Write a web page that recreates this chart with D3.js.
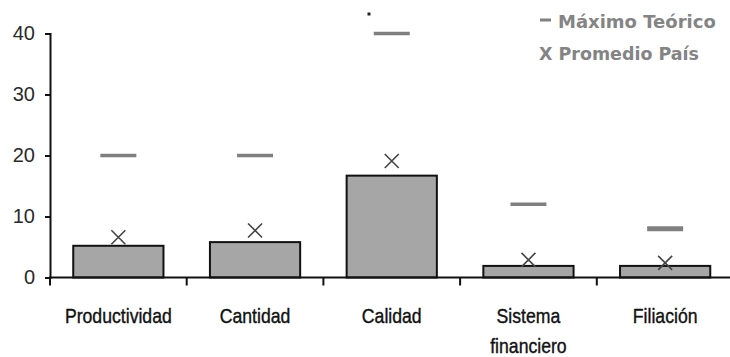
<!DOCTYPE html>
<html>
<head>
<meta charset="utf-8">
<script src="https://cdn.jsdelivr.net/npm/d3@7"></script>
<style>
  html, body { margin: 0; padding: 0; background: #fff; }
  svg { display: block; }
</style>
</head>
<body>
<svg id="chart" width="730" height="357"></svg>
<script>
// Indicator categories and values
const categories = ["Productividad", "Cantidad", "Calidad", "Sistema financiero", "Filiación"];
const barValues = [5.2, 5.8, 16.7, 1.9, 1.9];          // bars
const promedioPais = [6.6, 7.7, 19.1, 2.9, 2.4];       // X markers
const maximoTeorico = [20, 20, 40, 12, 8];             // dashes
const yTicks = [0, 10, 20, 30, 40];
const legendLabels = ["Máximo Teórico", "X Promedio País"];

const svg = d3.select("#chart");

const x = d3.scaleBand()
  .domain(categories)
  .range([50, 733.5])
  .paddingInner(0.34)
  .paddingOuter(0.17);

const y = d3.scaleLinear().domain([0, 40]).range([277.5, 33.5]);

// Bars
svg.append("g").selectAll("rect")
  .data(categories)
  .join("rect")
  .attr("x", d => x(d))
  .attr("y", (d, i) => y(barValues[i]))
  .attr("width", x.bandwidth())
  .attr("height", (d, i) => y(0) - y(barValues[i]))
  .attr("fill", "#a6a6a6")
  .attr("stroke", "#111")
  .attr("stroke-width", 2);

// Máximo Teórico dashes
svg.append("g").selectAll("line")
  .data(categories)
  .join("line")
  .attr("x1", d => x(d) + x.bandwidth() / 2 - 18)
  .attr("x2", d => x(d) + x.bandwidth() / 2 + 18)
  .attr("y1", (d, i) => y(maximoTeorico[i]))
  .attr("y2", (d, i) => y(maximoTeorico[i]))
  .attr("stroke", "#7f7f7f")
  .attr("stroke-width", (d, i) => i === 4 ? 5 : 3.5);

// Promedio País markers
const s = 7;
const marks = svg.append("g").selectAll("g")
  .data(categories)
  .join("g")
  .attr("transform", (d, i) => `translate(${x(d) + x.bandwidth() / 2},${y(promedioPais[i])})`);
marks.append("path")
  .attr("d", `M${-s},${-s}L${s},${s}M${-s},${s}L${s},${-s}`)
  .attr("stroke", "#444")
  .attr("stroke-width", 1.6)
  .attr("fill", "none");

// Y axis
const yAxis = svg.append("g")
  .attr("transform", "translate(50,0)")
  .call(d3.axisLeft(y).tickValues(yTicks).tickSize(5).tickPadding(10));
yAxis.select(".domain").attr("stroke", "#111").attr("stroke-width", 2);
yAxis.selectAll(".tick line").attr("stroke", "#111").attr("stroke-width", 2);
yAxis.selectAll(".tick text")
  .attr("font-family", "Liberation Sans, Arial, sans-serif")
  .attr("font-size", 20)
  .attr("fill", "#2a2a2a");

// X axis baseline with ticks at category boundaries
const xAxis = svg.append("g");
xAxis.append("line")
  .attr("x1", 49).attr("x2", 730)
  .attr("y1", y(0)).attr("y2", y(0))
  .attr("stroke", "#111").attr("stroke-width", 2);
const bounds = d3.range(categories.length).map(i => x(categories[i]) - x.step() * x.paddingInner() / 2);
xAxis.selectAll("line.tk")
  .data(bounds)
  .join("line")
  .attr("class", "tk")
  .attr("x1", d => d).attr("x2", d => d)
  .attr("y1", y(0)).attr("y2", y(0) + 8)
  .attr("stroke", "#111").attr("stroke-width", 2);

// Category labels (wrapped onto two lines where needed)
const labels = xAxis.selectAll("text.cat")
  .data(categories)
  .join("text")
  .attr("class", "cat")
  .attr("text-anchor", "middle")
  .attr("font-family", "Liberation Sans, Arial, sans-serif")
  .attr("font-size", 18)
  .attr("fill", "#111")
  .attr("stroke", "#111")
  .attr("stroke-width", 0.35)
  .attr("transform", d => `translate(${x(d) + x.bandwidth() / 2},322.5) scale(0.98,1.1)`);
labels.each(function(d) {
  const words = d.split(" ");
  d3.select(this).selectAll("tspan")
    .data(words)
    .join("tspan")
    .attr("x", 0)
    .attr("dy", (w, j) => j === 0 ? 0 : 28)
    .text(w => w);
});

// Small stray mark above the Calidad column
svg.append("rect")
  .attr("x", 367.5).attr("y", 12.5).attr("width", 3).attr("height", 3)
  .attr("fill", "#222");

// Legend
const legend = svg.append("g")
  .attr("font-family", "DejaVu Sans, sans-serif")
  .attr("font-weight", 700)
  .attr("font-size", 18)
  .attr("fill", "#848484");
legend.append("rect")
  .attr("x", 540).attr("y", 18.5).attr("width", 11).attr("height", 3)
  .attr("fill", "#808080");
legend.append("text")
  .attr("transform", "translate(558,27.7)")
  .text(legendLabels[0]);
legend.append("text")
  .attr("transform", "translate(539,60) scale(0.97,1)")
  .text(legendLabels[1]);
</script>
</body>
</html>
